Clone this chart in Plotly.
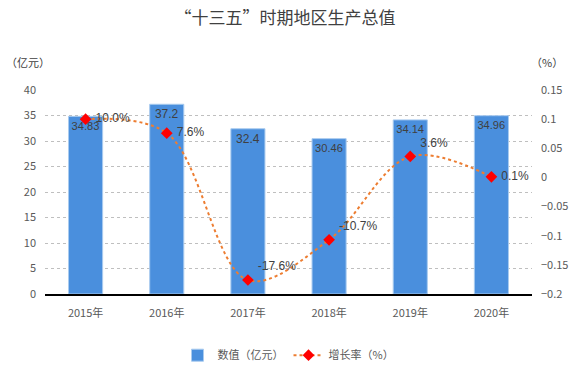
import plotly.graph_objects as go

years = ["2015年", "2016年", "2017年", "2018年", "2019年", "2020年"]
gdp = [34.83, 37.2, 32.4, 30.46, 34.14, 34.96]
growth = [0.100, 0.076, -0.176, -0.107, 0.036, 0.001]
growth_labels = ["10.0%", "7.6%", "-17.6%", "-10.7%", "3.6%", "0.1%"]

FONT = "Noto Sans CJK SC, Liberation Sans, sans-serif"

fig = go.Figure()
fig.add_trace(go.Bar(
    x=years, y=gdp, name="数值（亿元）",
    marker=dict(color="#4A8FDD", line=dict(color="#A9CBEF", width=1)),
    width=0.42,
    text=[f"{v:g}" for v in gdp], textposition="inside", insidetextanchor="end", textangle=0,
    textfont=dict(color="#404040", size=12, family="Liberation Sans, sans-serif"),
    yaxis="y",
))
fig.add_trace(go.Scatter(
    x=years, y=growth, name="增长率（%）", yaxis="y2",
    mode="lines+markers+text",
    line=dict(color="#ED7D31", width=2, dash="dot", shape="spline", smoothing=1.0),
    marker=dict(symbol="diamond", color="#FF0000", size=9),
    text=[" " + t for t in growth_labels],
    textposition=["middle right", "middle right", "top right", "top right", "top right", "middle right"],
    textfont=dict(color="#404040", size=12, family="Liberation Sans, sans-serif"),
))

fig.update_layout(
    width=570, height=375,
    margin=dict(l=45, r=38, t=90, b=81, autoexpand=False),
    paper_bgcolor="white", plot_bgcolor="white",
    font=dict(family=FONT, color="#595959", size=11),
    title=dict(text="“十三五”时期地区生产总值", x=0.5, xanchor="center", y=0.952, yanchor="middle",
               font=dict(size=17, color="#404040", family=FONT)),
    xaxis=dict(showline=True, linecolor="black", linewidth=2, ticks="", automargin=False,
               ticklabelstandoff=8, tickfont=dict(size=11, color="#595959")),
    yaxis=dict(range=[0, 40], dtick=5, showgrid=True, gridcolor="#BFBFBF", griddash="dot", gridwidth=1,
               zeroline=False, tickfont=dict(size=11, color="#595959"), ticks="", ticklabelstandoff=8,
               automargin=False),
    yaxis2=dict(range=[-0.2, 0.15], dtick=0.05, overlaying="y", side="right", showgrid=False,
                zeroline=False, tickfont=dict(size=11, color="#595959"), ticks="", ticklabelstandoff=8,
                automargin=False),
    legend=dict(orientation="h", x=0.5, xanchor="center", y=-0.30, yanchor="middle",
                font=dict(size=11, color="#595959")),
    showlegend=True,
)
fig.add_annotation(text="（亿元）", xref="paper", yref="paper", x=-0.085, y=1.137, xanchor="left",
                   yanchor="middle", showarrow=False, font=dict(size=11, color="#404040"))
fig.add_annotation(text="（%）", xref="paper", yref="paper", x=1.068, y=1.137, xanchor="right",
                   yanchor="middle", showarrow=False, font=dict(size=11, color="#404040"))

fig.write_html("out.html", config={"displayModeBar": False},
               post_script="document.body.style.margin='0';document.body.style.padding='0';")
